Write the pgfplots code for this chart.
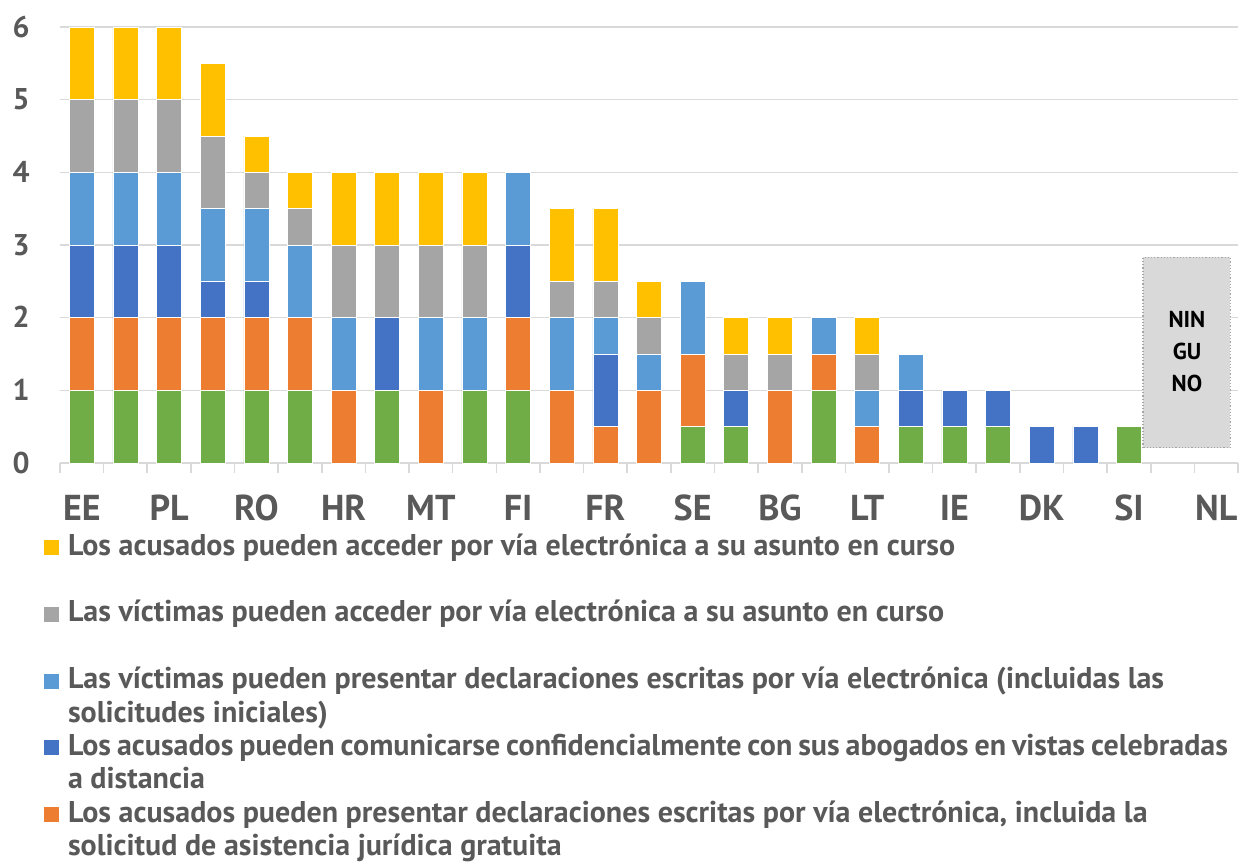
\documentclass[border=0pt]{standalone}
\usepackage{pgfplots}
\pgfplotsset{compat=1.18}
\usepackage{pgfplotstable}
\usepackage{fontspec}
\setmainfont{PT Sans}
\definecolor{cY}{HTML}{FFC000}
\definecolor{cGr}{HTML}{A5A5A5}
\definecolor{cLB}{HTML}{5B9BD5}
\definecolor{cDB}{HTML}{4472C4}
\definecolor{cO}{HTML}{ED7D31}
\definecolor{cG}{HTML}{70AD47}
\definecolor{txt}{HTML}{595959}
\definecolor{grd}{HTML}{D9D9D9}
\pgfplotstableread{
x  g   o   db  lb  gr  y
1  1   1   1   1   1   1
2  1   1   1   1   1   1
3  1   1   1   1   1   1
4  1   1   0.5 1   1   1
5  1   1   0.5 1   0.5 0.5
6  1   1   0   1   0.5 0.5
7  0   1   0   1   1   1
8  1   0   1   0   1   1
9  0   1   0   1   1   1
10 1   0   0   1   1   1
11 1   1   1   1   0   0
12 0   1   0   1   0.5 1
13 0   0.5 1   0.5 0.5 1
14 0   1   0   0.5 0.5 0.5
15 0.5 1   0   1   0   0
16 0.5 0   0.5 0   0.5 0.5
17 0   1   0   0   0.5 0.5
18 1   0.5 0   0.5 0   0
19 0   0.5 0   0.5 0.5 0.5
20 0.5 0   0.5 0.5 0   0
21 0.5 0   0.5 0   0   0
22 0.5 0   0.5 0   0   0
23 0   0   0.5 0   0   0
24 0   0   0.5 0   0   0
25 0.5 0   0   0   0   0
26 0   0   0   0   0   0
27 0   0   0   0   0   0
}\data
\newcommand\leg[2]{\parbox[t]{580pt}{\fontsize{15}{16.7}\selectfont\bfseries\rule{0pt}{12pt}#1\\\rule[-4.7pt]{0pt}{4.7pt}#2}}
\begin{document}
\begin{tikzpicture}
\begin{axis}[name=ax, width=589pt, height=218pt, scale only axis,
  ybar stacked, bar width=12.5pt,
  xmin=0.5, xmax=27.5, ymin=0, ymax=6,
  axis lines=left,
  x axis line style={-, grd, line width=0.8pt},
  y axis line style={draw=none},
  ytick={0,...,6}, ymajorgrids, grid style={grd, line width=0.8pt},
  ytick style={draw=none},
  xtick={1,3,...,27},
  xticklabels={EE,PL,RO,HR,MT,FI,FR,SE,BG,LT,IE,DK,SI,NL},
  minor xtick={0.5,1.5,...,27.5},
  tick align=outside,
  major tick length=0pt, minor tick length=5pt,
  major x tick style={draw=none},
  minor x tick style={grd, line width=0.8pt},
  /pgf/number format/assume math mode=true,
  xticklabel style={font=\fontsize{18}{20}\selectfont\bfseries, text=txt, anchor=base, inner sep=0pt, yshift=-28.5pt},
  yticklabel style={font=\fontsize{15}{16}\selectfont\bfseries, text=txt, anchor=base east, inner sep=0pt, xshift=-15pt, yshift=-5pt},
  every axis plot/.append style={draw=white, line width=0.3pt,
     legend image code/.code={\fill[#1,draw=none] (0pt,0pt) rectangle (7.5pt,7.5pt);}},
  reverse legend,
  legend style={at={(0,0)}, anchor=north west, xshift=-8pt, yshift=-34pt,
     draw=none, fill=none, inner sep=0pt, outer sep=0pt, row sep=0pt,
     column sep=4.5pt, cells={anchor=base west},
     nodes={inner sep=0pt, outer sep=0pt, text=txt, text height=12pt, text depth=21.4pt}},
]
\addplot[fill=cG, forget plot] table[x=x,y=g]{\data};
\addplot[fill=cO] table[x=x,y=o]{\data};
\addlegendentry{\leg{Los acusados pueden presentar declaraciones escritas por vía electrónica, incluida la}{solicitud de asistencia jurídica gratuita}}
\addplot[fill=cDB] table[x=x,y=db]{\data};
\addlegendentry{\leg{Los acusados pueden comunicarse confidencialmente con sus abogados en vistas celebradas}{a distancia}}
\addplot[fill=cLB] table[x=x,y=lb]{\data};
\addlegendentry{\leg{Las víctimas pueden presentar declaraciones escritas por vía electrónica (incluidas las}{solicitudes iniciales)}}
\addplot[fill=cGr] table[x=x,y=gr]{\data};
\addlegendentry{\leg{Las víctimas pueden acceder por vía electrónica a su asunto en curso}{}}
\addplot[fill=cY] table[x=x,y=y]{\data};
\addlegendentry{\leg{Los acusados pueden acceder por vía electrónica a su asunto en curso}{}}
\coordinate (boxA) at (axis cs:25.32,0.21);
\coordinate (boxB) at (axis cs:27.32,2.83);
\coordinate (boxC) at (axis cs:26.33,1.53);
\end{axis}
\draw[fill=grd, draw=gray!70, densely dotted, line width=0.6pt] (boxA) rectangle (boxB);
\node[align=center, font=\fontsize{11.5}{16}\selectfont\bfseries, text=black] at (boxC) {NIN\\GU\\NO};
\pgfresetboundingbox
\path[use as bounding box] ([xshift=-30pt,yshift=-202pt]ax.south west) rectangle ([xshift=4pt,yshift=13.5pt]ax.north east);
\end{tikzpicture}
\end{document}
